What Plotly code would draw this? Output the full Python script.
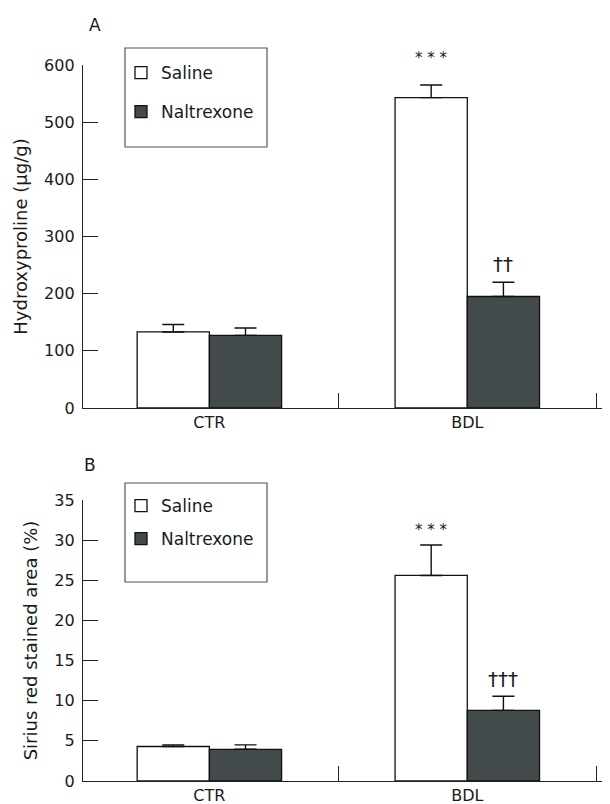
import plotly.graph_objects as go

groups = ["CTR", "BDL"]
series = ["Saline", "Naltrexone"]

hyp_mean = {"Saline": [133, 543], "Naltrexone": [127, 195]}
hyp_upper = {"Saline": [146, 565], "Naltrexone": [140, 220]}

sir_mean = {"Saline": [4.3, 25.6], "Naltrexone": [3.95, 8.8]}
sir_upper = {"Saline": [4.5, 29.4], "Naltrexone": [4.5, 10.55]}

hyp_ticks = [0, 100, 200, 300, 400, 500, 600]
sir_ticks = [0, 5, 10, 15, 20, 25, 30, 35]
hyp_range = [0, 600]
sir_range = [0, 35]

# significance marks: (panel, series, group, label, y)
sig_marks = [
    ("A", "Saline", "BDL", "* * *", 612),
    ("A", "Naltrexone", "BDL", "††", 252),
    ("B", "Saline", "BDL", "* * *", 31.3),
    ("B", "Naltrexone", "BDL", "†††", 12.7),
]

colors = {"Saline": "#ffffff", "Naltrexone": "#434a4b"}
FONT = "DejaVu Sans"
TXT = "#1a1a1a"
W, H = 610, 804
OFF = 8  # page body margin
L, R = 83 - OFF, 6 + OFF
pw = W - L - R


def py(p):
    return (H - (p - OFF)) / H


def px(p):
    return (p - OFF - L) / pw


fig = go.Figure()
for panel, mean, upper, xa, ya, leg in [
    ("A", hyp_mean, hyp_upper, "x", "y", "legend"),
    ("B", sir_mean, sir_upper, "x2", "y2", "legend2"),
]:
    for s in series:
        fig.add_trace(go.Bar(
            x=groups, y=mean[s], name=s,
            xaxis=xa, yaxis=ya, legend=leg, legendgroup=s,
            offsetgroup=s,
            marker=dict(color=colors[s], line=dict(color="#111111", width=1.3)),
            error_y=dict(type="data", symmetric=False,
                         array=[u - m for u, m in zip(upper[s], mean[s])],
                         arrayminus=[0] * len(groups),
                         color="#111111", thickness=1.4, width=11),
        ))

offs = {"Saline": -0.14, "Naltrexone": 0.14}
for panel, s, g, lab, yv in sig_marks:
    xi = groups.index(g) + offs[s]
    rng = hyp_range if panel == "A" else sir_range
    dagger = "†" in lab
    fig.add_annotation(x=xi, y=(yv - rng[0]) / (rng[1] - rng[0]), text=lab,
                       showarrow=False,
                       xref="x" if panel == "A" else "x2",
                       yref="y domain" if panel == "A" else "y2 domain",
                       xanchor="center", yanchor="middle",
                       font=dict(family=FONT, size=20 if dagger else 15, color=TXT))

fig.add_annotation(text="A", x=px(95), y=py(25), xref="paper", yref="paper",
                   xanchor="center", yanchor="middle", showarrow=False,
                   font=dict(family=FONT, size=17, color=TXT))
fig.add_annotation(text="B", x=px(90), y=py(465), xref="paper", yref="paper",
                   xanchor="center", yanchor="middle", showarrow=False,
                   font=dict(family=FONT, size=17, color=TXT))

xcommon = dict(type="category", range=[-0.49, 1.53], showline=True,
               linecolor="#222222", linewidth=1.4, ticks="inside",
               tickson="boundaries", ticklen=15, tickcolor="#222222",
               tickwidth=1.2, showgrid=False, zeroline=False,
               tickfont=dict(family=FONT, size=16, color=TXT), automargin=False)
ycommon = dict(showline=True, linecolor="#222222", linewidth=1.4,
               ticks="inside", ticklen=15, tickcolor="#222222", tickwidth=1.2,
               showgrid=False, zeroline=False, ticklabelstandoff=4,
               tickfont=dict(family=FONT, size=16, color=TXT),
               title_font=dict(family=FONT, size=18, color=TXT),
               title_standoff=11, automargin=False)

fig.update_layout(
    width=W, height=H, margin=dict(l=L, r=R, t=0, b=0),
    paper_bgcolor="white", plot_bgcolor="white",
    barmode="group", bargap=0.44, bargroupgap=0,
    font=dict(family=FONT, color=TXT),
    xaxis=dict(xcommon, domain=[0, 1], anchor="y"),
    yaxis=dict(ycommon, domain=[py(408), py(65)], range=hyp_range,
               tickvals=hyp_ticks, title_text="Hydroxyproline (µg/g)", anchor="x"),
    xaxis2=dict(xcommon, domain=[0, 1], anchor="y2"),
    yaxis2=dict(ycommon, domain=[py(781), py(500)], range=sir_range,
                tickvals=sir_ticks, title_text="Sirius red stained area (%)", anchor="x2"),
    legend=dict(x=px(121), y=py(55), xanchor="left", yanchor="top",
                bgcolor="rgba(0,0,0,0)", borderwidth=0,
                font=dict(family=FONT, size=17, color=TXT),
                traceorder="grouped", tracegroupgap=14),
    legend2=dict(x=px(121), y=py(488), xanchor="left", yanchor="top",
                 bgcolor="rgba(0,0,0,0)", borderwidth=0,
                 font=dict(family=FONT, size=17, color=TXT),
                 traceorder="grouped", tracegroupgap=8),
    shapes=[
        dict(type="rect", xref="paper", yref="paper",
             x0=px(125), x1=px(267), y0=py(147), y1=py(48),
             line=dict(color="#555555", width=1.2)),
        dict(type="rect", xref="paper", yref="paper",
             x0=px(125), x1=px(267), y0=py(582), y1=py(483),
             line=dict(color="#555555", width=1.2)),
    ],
    showlegend=True,
)

fig.write_html("out.html")
